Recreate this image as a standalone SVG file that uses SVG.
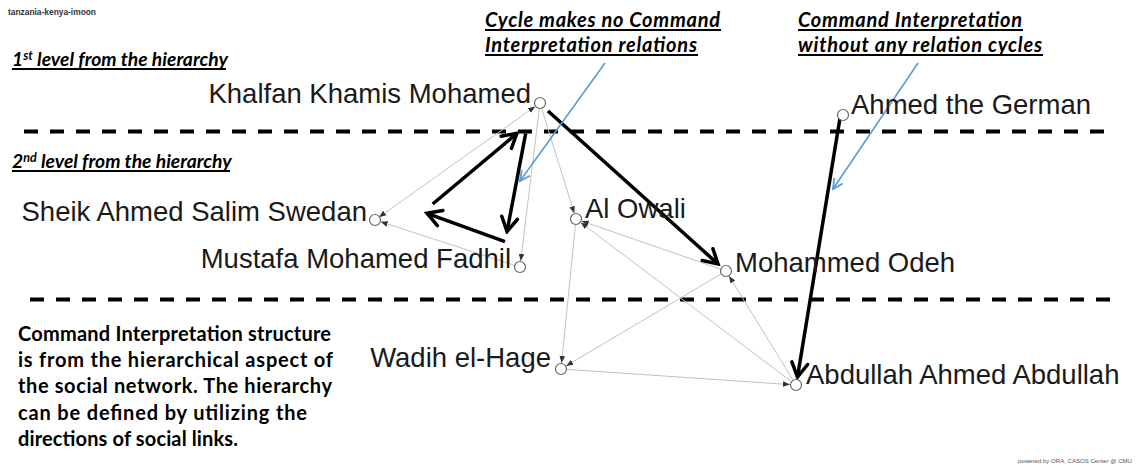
<svg xmlns="http://www.w3.org/2000/svg" width="1143" height="466" viewBox="0 0 1143 466">
  <defs>
    <style>
      .lbl { font-family: "Liberation Sans", Arial, sans-serif; font-size: 27.5px; fill: #1a1a1a; }
      .note { font-family: Lato, "Liberation Sans", sans-serif; font-weight: bold; fill: #000; }
      .head { font-family: Lato, "Liberation Sans", sans-serif; font-weight: bold; font-style: italic; fill: #000; }
      .ul { stroke: #000; stroke-width: 2; }
      .tiny { font-family: "Liberation Sans", Arial, sans-serif; fill: #333; }
      .node circle { fill: #fff; stroke: #666; stroke-width: 1.2; }
      .link { fill: none; stroke: #c2c2c2; stroke-width: 1; marker-end: url(#small); }
      .strong { fill: none; stroke: #000; stroke-width: 3.5; marker-end: url(#chev); }
      .callout { fill: none; stroke: #5b9bd5; stroke-width: 1.6; marker-end: url(#chevBlue); }
      .level { stroke: #000; stroke-width: 4; stroke-dasharray: 14 12; }
    </style>
    <marker id="small" markerUnits="userSpaceOnUse" markerWidth="8" markerHeight="8" viewBox="0 0 8 8" refX="7" refY="4" orient="auto">
      <path d="M0,1.2 L7,4 L0,6.8 Z" fill="#333"/>
    </marker>
    <marker id="smallStart" markerUnits="userSpaceOnUse" markerWidth="8" markerHeight="8" viewBox="0 0 8 8" refX="7" refY="4" orient="auto-start-reverse">
      <path d="M0,1.2 L7,4 L0,6.8 Z" fill="#333"/>
    </marker>
    <marker id="chev" markerUnits="userSpaceOnUse" markerWidth="22" markerHeight="22" viewBox="0 0 22 22" refX="19" refY="11" orient="auto">
      <path d="M5,3 L19,11 L5,19" fill="none" stroke="#000" stroke-width="3.5" stroke-linecap="round" stroke-linejoin="miter"/>
    </marker>
    <marker id="chevBlue" markerUnits="userSpaceOnUse" markerWidth="16" markerHeight="16" viewBox="0 0 16 16" refX="14" refY="8" orient="auto">
      <path d="M4,3 L14,8 L4,13" fill="none" stroke="#5b9bd5" stroke-width="1.8"/>
    </marker>
  </defs>

  <rect width="1143" height="466" fill="#fff"/>

  <!-- network title and credit -->
  <text class="tiny" x="8" y="15" style="font-size:8.5px;font-weight:bold" textLength="88" lengthAdjust="spacingAndGlyphs">tanzania-kenya-imoon</text>
  <text class="tiny" x="1018" y="463" style="font-size:6px;fill:#555" textLength="114" lengthAdjust="spacingAndGlyphs">powered by ORA, CASOS Center @ CMU</text>

  <!-- hierarchy level separators -->
  <g id="levels">
    <line class="level" x1="24" y1="131.5" x2="1116" y2="131.5"/>
    <line class="level" x1="30" y1="299.5" x2="1118" y2="299.5"/>
  </g>

  <!-- level headings -->
  <g id="level-labels">
    <text class="head" x="12" y="66" font-size="19.3">1<tspan font-size="12.5" dy="-6">st</tspan><tspan dy="6"> level from the hierarchy</tspan></text>
    <line class="ul" x1="12" y1="69" x2="226" y2="69"/>
    <text class="head" x="12" y="168" font-size="19.3">2<tspan font-size="12.5" dy="-6">nd</tspan><tspan dy="6"> level from the hierarchy</tspan></text>
    <line class="ul" x1="12" y1="171" x2="230" y2="171"/>
  </g>

  <!-- callout headings -->
  <g id="callout-text">
    <text class="head" x="485" y="27" font-size="20" textLength="235">Cycle makes no Command</text>
    <line class="ul" x1="485" y1="30" x2="721" y2="30"/>
    <text class="head" x="485" y="52" font-size="20" textLength="212">Interpretation relations</text>
    <line class="ul" x1="485" y1="55" x2="698" y2="55"/>
    <text class="head" x="798" y="27" font-size="20" textLength="224">Command Interpretation</text>
    <line class="ul" x1="798" y1="30" x2="1023" y2="30"/>
    <text class="head" x="798" y="52" font-size="20" textLength="244">without any relation cycles</text>
    <line class="ul" x1="798" y1="55" x2="1043" y2="55"/>
  </g>

  <!-- explanatory note -->
  <g id="note">
    <text class="note" x="18" y="341" font-size="20" textLength="313">Command Interpretation structure</text>
    <text class="note" x="18" y="367" font-size="20" textLength="315">is from the hierarchical aspect of</text>
    <text class="note" x="18" y="393" font-size="20" textLength="314">the social network. The hierarchy</text>
    <text class="note" x="18" y="420" font-size="20" textLength="289">can be defined by utilizing the</text>
    <text class="note" x="18" y="446" font-size="20" textLength="220">directions of social links.</text>
  </g>

  <!-- connectors -->
  <g id="connectors">
    <!-- social links -->
    <path class="link" style="marker-start:url(#smallStart)" d="M379.1,217.1 L535.1,106.5"/>
    <path class="link" d="M539.4,108 L520.7,261"/>
    <path class="link" d="M541.5,107.8 L574.2,213.3"/>
    <path class="link" d="M515.2,265.5 L380.7,221.8"/>
    <path class="link" d="M721.3,269.4 L581.7,221"/>
    <path class="link" d="M792,382 L580.8,222.6"/>
    <path class="link" d="M575.5,224 L561.6,363"/>
    <path class="link" d="M721.7,273.6 L566.2,365.9"/>
    <path class="link" d="M566,369.3 L790,384.6"/>
    <path class="link" d="M793.4,380.7 L729.1,276.1"/>
    <!-- command cycle -->
    <path class="strong" d="M432.7,204 L517,133.3"/>
    <path class="strong" d="M525.7,133.3 L507,231.5"/>
    <path class="strong" d="M505,241.7 L427,213.3"/>
    <!-- command interpretation -->
    <path class="strong" d="M548,111 L718,264"/>
    <path class="strong" d="M840,118 L797.5,377"/>
    <!-- callout pointers -->
    <path class="callout" d="M605,63 L520,181"/>
    <path class="callout" d="M918,63 L833,189"/>
  </g>

  <!-- nodes -->
  <g id="n-khalfan" class="node"><circle cx="540" cy="103" r="5.5"/><text class="lbl" x="531" y="103" text-anchor="end">Khalfan Khamis Mohamed</text></g>
  <g id="n-ahmed-german" class="node"><circle cx="843" cy="115" r="5.5"/><text class="lbl" x="851" y="114">Ahmed the German</text></g>
  <g id="n-swedan" class="node"><circle cx="375" cy="220" r="5.5"/><text class="lbl" x="367" y="221" text-anchor="end">Sheik Ahmed Salim Swedan</text></g>
  <g id="n-fadhil" class="node"><circle cx="520" cy="267" r="5.5"/><text class="lbl" x="511" y="268" text-anchor="end">Mustafa Mohamed Fadhil</text></g>
  <g id="n-owali" class="node"><circle cx="576" cy="219" r="5.5"/><text class="lbl" x="585" y="218">Al Owali</text></g>
  <g id="n-odeh" class="node"><circle cx="726" cy="271" r="5.5"/><text class="lbl" x="735" y="272">Mohammed Odeh</text></g>
  <g id="n-hage" class="node"><circle cx="561" cy="369" r="5.5"/><text class="lbl" x="551" y="367" text-anchor="end">Wadih el-Hage</text></g>
  <g id="n-abdullah" class="node"><circle cx="796" cy="385" r="5.5"/><text class="lbl" x="806" y="384">Abdullah Ahmed Abdullah</text></g>
</svg>
